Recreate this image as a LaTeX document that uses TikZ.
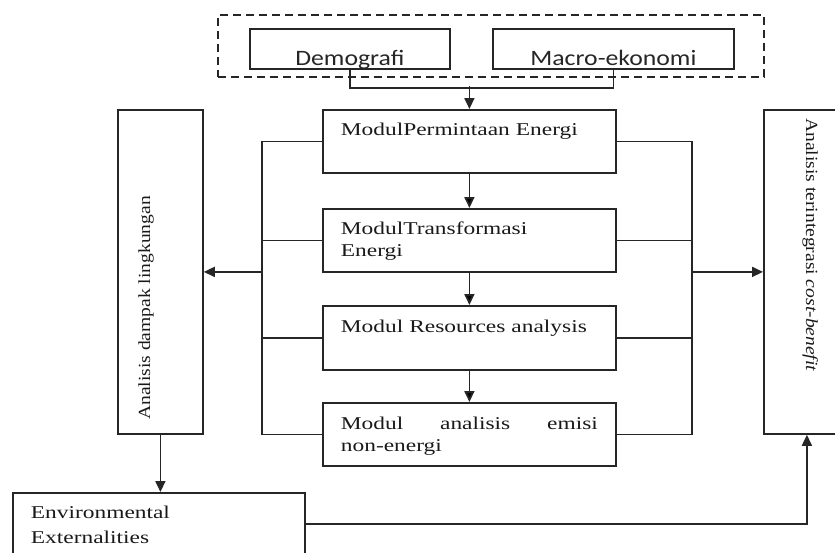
\documentclass[tikz,border=0pt]{standalone}
\usepackage{fontspec}
\setmainfont{Liberation Serif}
\newfontfamily\modfont[FakeStretch=1.3]{Liberation Serif}
\newfontfamily\sidefont[FakeStretch=1.15]{Liberation Serif}
\newfontfamily\topfont[FakeStretch=1.17]{Carlito}
\usetikzlibrary{arrows.meta}

\begin{document}
\begin{tikzpicture}[x=1pt,y=-1pt]
	\tikzstyle{modul}=[draw=black!85,line width=1.8pt,anchor=north west,inner xsep=18pt,inner ysep=0pt,text width=257pt,align=left,text height=26pt,text depth=37pt,text=black!90,font=\modfont\fontsize{18}{22}\selectfont]
	\tikzstyle{source}=[draw=black!85,line width=1.8pt,anchor=north west,inner sep=0pt,text height=37pt,text depth=3pt,text=black!85,font=\topfont\fontsize{22}{26}\selectfont]
	\tikzstyle{group}=[draw=black!85,line width=1.8pt,dash pattern=on 8pt off 5pt,anchor=north west,inner sep=0pt,minimum width=546pt,minimum height=62pt]
	\tikzstyle{side}=[draw=black!85,line width=1.8pt,anchor=north west,inner sep=0pt,minimum height=324pt]
	\tikzstyle{vlabel}=[inner sep=0pt,text=black!90,font=\sidefont\fontsize{17}{20}\selectfont]
	\tikzstyle{edge}=[draw=black!85,line width=1.8pt]
	\tikzstyle{arrow}=[edge,-{Triangle[length=11pt,width=10pt]}]
	\useasboundingbox (0,0) rectangle (835,552);
	\clip (0,0) rectangle (835,552);
	% input data
	\node [group] (inputs) at (217,14) {};
	\node [source,minimum width=200pt] (demo) at (249,28) {Demografi};
	\node [source,minimum width=241pt] (macro) at (492,28) {Macro-ekonomi};
	% modules
	\node [modul] (perm) at (322,109) {ModulPermintaan Energi};
	\node [modul] (trans) at (322,208) {ModulTransformasi\\Energi};
	\node [modul,text height=27pt,text depth=37pt] (res) at (322,305) {Modul Resources analysis};
	\node [modul,text height=27pt,text depth=36pt] (emisi) at (322,402) {Modul \hfill analisis \hfill emisi\\non-energi};
	% analyses
	\node [side,minimum width=85pt] (ling) at (117,109) {};
	\node [vlabel,rotate=90,anchor=base west] (lingtext) at (150,420) {Analisis dampak lingkungan};
	\node [side,minimum width=86pt] (cb) at (763,109) {};
	\node [vlabel,rotate=-90,anchor=base west] (cbtext) at (806,118) {Analisis terintegrasi \textit{cost-benefit}};
	\node [modul,text width=256pt,text height=26pt,text depth=36pt,font=\modfont\fontsize{18}{25}\selectfont] (env) at (12,492) {Environmental\\Externalities};
	% connectors
	\draw [edge] (demo.south) -- ++(0,18) -| (macro.south);
	\path (perm.north) ++(0,-23) coordinate (merge);
	\draw [arrow] (merge) -- (perm.north);
	\path [arrow] (perm) edge (trans);
	\path [arrow] (trans) edge (res);
	\path [arrow] (res) edge (emisi);
	\draw [edge] (perm.west) -- ++(-60,0) coordinate (lbus) -- (lbus |- emisi.west) -- (emisi.west);
	\draw [edge] (trans.west) -- (trans.west -| lbus);
	\draw [edge] (res.west) -- (res.west -| lbus);
	\draw [arrow] (ling.east -| lbus) -- (ling.east);
	\draw [edge] (perm.east) -- ++(75,0) coordinate (rbus) -- (rbus |- emisi.east) -- (emisi.east);
	\draw [edge] (trans.east) -- (trans.east -| rbus);
	\draw [edge] (res.east) -- (res.east -| rbus);
	\draw [arrow] (cb.west -| rbus) -- (cb.west);
	\draw [arrow] (ling.south) -- (env.north -| ling.south);
	\draw [arrow] (env.east) -| (cb.south);
\end{tikzpicture}
\end{document}
